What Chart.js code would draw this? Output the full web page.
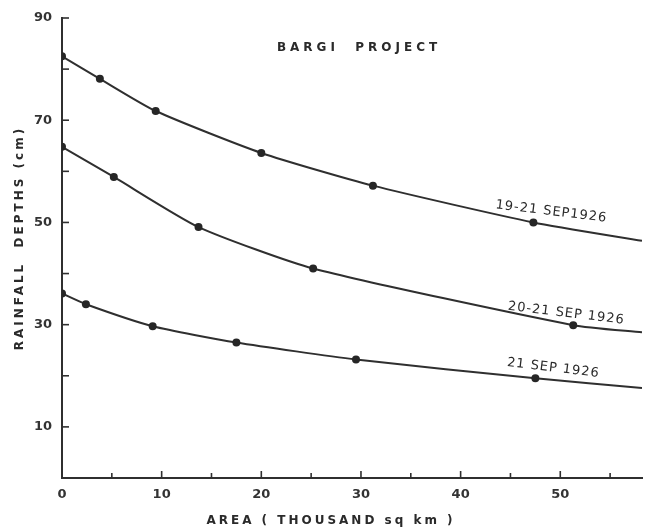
<!DOCTYPE html>
<html>
<head>
<meta charset="utf-8">
<script src="https://cdn.jsdelivr.net/npm/chart.js@4"></script>
<style>
  html, body { margin: 0; padding: 0; background: #fff; }
  #wrap { width: 646px; height: 531px; }
</style>
</head>
<body>
<div id="wrap"><canvas id="rainChart" width="646" height="531"></canvas></div>
<script>
// area (thousand sq km) and rainfall depth (cm) for each storm
var storm1X = [0, 3.8, 9.4, 20.0, 31.2, 47.3, 58.2];
var storm1Y = [82.5, 78.1, 71.8, 63.6, 57.2, 50.0, 46.4];
var storm2X = [0, 5.2, 13.7, 25.2, 51.3, 58.2];
var storm2Y = [64.8, 58.9, 49.1, 41.0, 29.9, 28.5];
var storm3X = [0, 2.4, 9.1, 17.5, 29.5, 47.5, 58.2];
var storm3Y = [36.1, 34.0, 29.7, 26.5, 23.2, 19.5, 17.6];
var stormNames = ['19-21 SEP1926', '20-21 SEP 1926', '21 SEP 1926'];
var xTicks = [0, 5, 10, 15, 20, 25, 30, 35, 40, 45, 50, 55];
var yTicks = [10, 20, 30, 40, 50, 60, 70, 80, 90];

var ink = '#2f2f2f';
var font = "'DejaVu Sans', sans-serif";

function toPoints(xs, ys) {
    return xs.map(function(x, i) { return { x: x, y: ys[i] }; });
}
// last point of each curve is only where the drawn curve runs off, no marker
function markerSizes(xs) {
    return xs.map(function(x, i) { return i === xs.length - 1 ? 0 : 4; });
}

function curve(xs, ys) {
    return {
        data: toPoints(xs, ys),
        borderColor: ink,
        borderWidth: 2,
        backgroundColor: ink,
        pointRadius: markerSizes(xs),
        pointBackgroundColor: '#262626',
        pointBorderWidth: 0,
        tension: 0.2,
        fill: false
    };
}

// inward tick marks, curve labels, title and axis titles
var decorations = {
    id: 'decorations',
    afterDraw: function(chart) {
        var ctx = chart.ctx;
        var xs = chart.scales.x, ys = chart.scales.y;
        var area = chart.chartArea;
        ctx.save();
        ctx.strokeStyle = ink;
        ctx.lineWidth = 1.6;
        xTicks.forEach(function(v) {
            var px = xs.getPixelForValue(v);
            var len = v % 10 === 0 ? 7 : 5;
            ctx.beginPath();
            ctx.moveTo(px, area.bottom);
            ctx.lineTo(px, area.bottom - len);
            ctx.stroke();
        });
        yTicks.forEach(function(v) {
            var py = ys.getPixelForValue(v);
            ctx.beginPath();
            ctx.moveTo(area.left, py);
            ctx.lineTo(area.left + 7, py);
            ctx.stroke();
        });

        ctx.fillStyle = '#2a2a2a';
        ctx.textAlign = 'center';
        ctx.textBaseline = 'middle';

        // curve labels
        var labelSpots = [[49.1, 52.1], [50.6, 32.2], [49.3, 21.5]];
        ctx.font = '13px ' + font;
        ctx.letterSpacing = '1px';
        stormNames.forEach(function(name, i) {
            var px = xs.getPixelForValue(labelSpots[i][0]);
            var py = ys.getPixelForValue(labelSpots[i][1]);
            ctx.save();
            ctx.translate(px, py);
            ctx.rotate(0.12);
            ctx.fillText(name, 0, 0);
            ctx.restore();
        });

        // title
        ctx.font = 'bold 12px ' + font;
        ctx.letterSpacing = '4px';
        ctx.fillText('BARGI  PROJECT', 359, 48);

        // axis titles
        ctx.font = 'bold 12px ' + font;
        ctx.letterSpacing = '3px';
        ctx.fillText('AREA ( THOUSAND sq km )', 331, 521);
        ctx.save();
        ctx.translate(20, 238);
        ctx.rotate(-Math.PI / 2);
        ctx.fillText('RAINFALL  DEPTHS (cm)', 0, 0);
        ctx.restore();
        ctx.restore();
    }
};

window.onload = function() {
    var ctx = document.getElementById('rainChart').getContext('2d');
    var rainChart = new Chart(ctx, {
        type: 'line',
        data: {
            datasets: [
                curve(storm1X, storm1Y),
                curve(storm2X, storm2Y),
                curve(storm3X, storm3Y)
            ]
        },
        options: {
            responsive: false,
            animation: false,
            layout: { padding: { top: 18, right: 2, left: 0, bottom: 0 } },
            plugins: {
                legend: { display: false },
                tooltip: { enabled: false }
            },
            scales: {
                x: {
                    type: 'linear',
                    min: 0,
                    max: 58.2,
                    afterBuildTicks: function(scale) {
                        scale.ticks = xTicks.map(function(v) { return { value: v }; });
                    },
                    afterFit: function(scale) { scale.height = 53; },
                    grid: { display: false, drawTicks: false },
                    border: { display: true, color: ink, width: 2 },
                    ticks: {
                        padding: 9,
                        color: '#333333',
                        font: { family: font, size: 13, weight: 'bold' },
                        maxRotation: 0,
                        autoSkip: false,
                        callback: function(v) { return v % 10 === 0 ? v : ''; }
                    }
                },
                y: {
                    min: 0,
                    max: 90,
                    afterBuildTicks: function(scale) {
                        scale.ticks = yTicks.map(function(v) { return { value: v }; });
                    },
                    afterFit: function(scale) { scale.width = 62; },
                    grid: { display: false, drawTicks: false },
                    border: { display: true, color: ink, width: 2 },
                    ticks: {
                        padding: 10,
                        color: '#333333',
                        font: { family: font, size: 13, weight: 'bold' },
                        autoSkip: false,
                        callback: function(v) { return v % 20 === 10 ? v : ''; }
                    }
                }
            }
        },
        plugins: [decorations]
    });
};
</script>
</body>
</html>
